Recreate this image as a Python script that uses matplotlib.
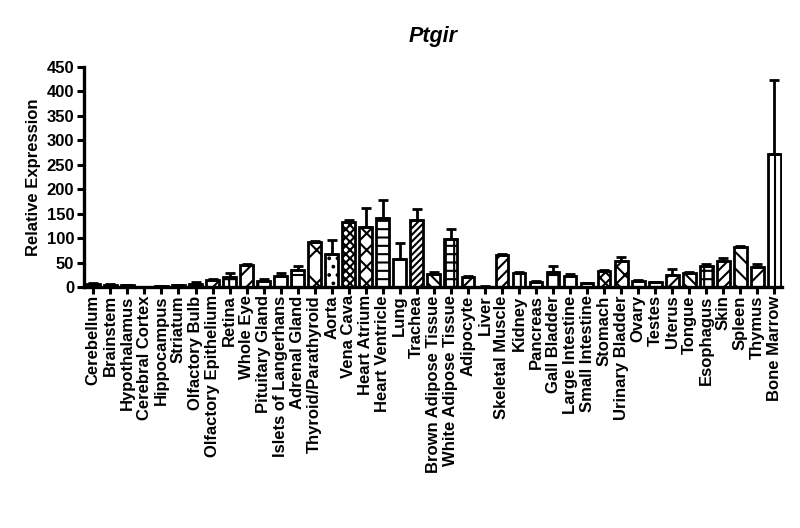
import numpy as np
from matplotlib import pyplot as plt
plt.rcParams["font.family"] = ["Liberation Sans", "DejaVu Sans"]
plt.rcParams["font.weight"] = "bold"
plt.rcParams["hatch.linewidth"] = 1.5

tissues = ['Cerebellum', 'Brainstem', 'Hypothalamus', 'Cerebral Cortex', 'Hippocampus',
           'Striatum', 'Olfactory Bulb', 'Olfactory Epithelium', 'Retina', 'Whole Eye',
           'Pituitary Gland', 'Islets of Langerhans', 'Adrenal Gland', 'Thyroid/Parathyroid',
           'Aorta', 'Vena Cava', 'Heart Atrium', 'Heart Ventricle', 'Lung', 'Trachea',
           'Brown Adipose Tissue', 'White Adipose Tissue', 'Adipocyte', 'Liver',
           'Skeletal Muscle', 'Kidney', 'Pancreas', 'Gall Bladder', 'Large Intestine',
           'Small Intestine', 'Stomach', 'Urinary Bladder', 'Ovary', 'Testes', 'Uterus',
           'Tongue', 'Esophagus', 'Skin', 'Spleen', 'Thymus', 'Bone Marrow']
expr = [7, 5, 4, 0.5, 2, 4, 7, 14, 20, 46,
        13, 22, 34, 93, 67, 134, 123, 141, 57, 138,
        26, 98, 20, 1, 66, 28, 11, 31, 22, 8,
        33, 53, 13, 10, 24, 28, 44, 53, 81, 40, 272]
err = [1, 1, 1, 0.5, 1, 1, 3, 2, 8, 2,
       3, 7, 9, 2, 30, 3, 38, 38, 34, 22,
       4, 20, 2, 0.5, 2, 2, 1, 11, 4, 1,
       2, 8, 2, 1, 13, 2, 3, 7, 3, 8, 152]
hatches = ['', '', '', '', '', '', '++', '//', '++', '//',
           '+', '', '+', 'x', '..', 'xxxx', 'xx', '--', '|', '/////',
           '\\\\\\', '++', '//', '', '///', '||', '-', '+', 'x', '-',
           'xxx', 'xx', '-', '-', '///', '\\\\\\', '++', '///', '\\\\', '//', '|']

x = np.arange(len(tissues))
fig = plt.figure(figsize=(8, 5.28), dpi=100)
ax = fig.add_axes([0.105, 0.4564, 0.8725, 0.4166])
ax.bar(x, expr, width=0.75, color='white', edgecolor='black', linewidth=2,
       hatch=hatches, zorder=2)
ax.errorbar(x, expr, yerr=[np.zeros(len(err)), err], fmt='none', ecolor='black',
            elinewidth=2, capsize=3.5, capthick=2, zorder=3)

ax.set_xlim(-0.55, 40.45)
ax.set_ylim(0, 450)
ax.set_yticks(np.arange(0, 451, 50))
ax.set_xticks(x)
ax.set_xticklabels(tissues, rotation=90, fontsize=12, fontweight='bold')
ax.tick_params(axis='y', labelsize=12, width=2.2, length=5, pad=2)
ax.tick_params(axis='x', width=2.2, length=5, pad=1)
for s in ['top', 'right']:
    ax.spines[s].set_visible(False)
for s in ['left', 'bottom']:
    ax.spines[s].set_linewidth(2.4)
ax.set_ylabel('Relative Expression', fontsize=12, fontweight='bold', labelpad=4)
ax.set_title('Ptgir', fontsize=15.5, fontweight='bold', style='italic', pad=18)

plt.savefig('out.png', dpi=100)
